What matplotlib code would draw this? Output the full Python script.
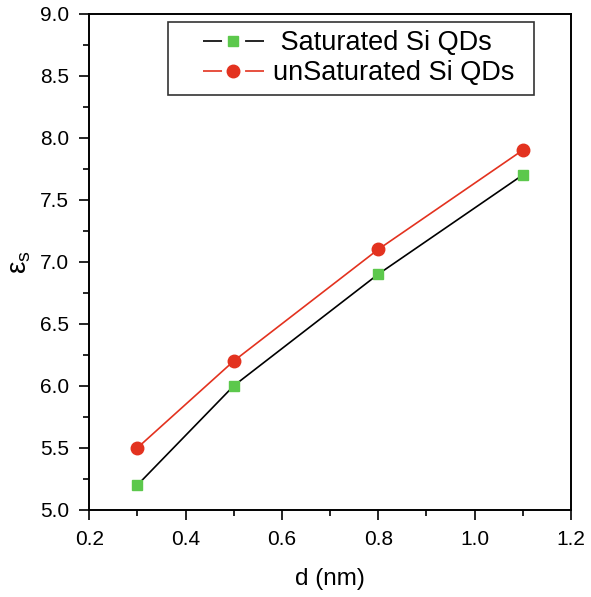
import matplotlib
matplotlib.use("Agg")
import matplotlib.pyplot as plt
from matplotlib.lines import Line2D
from matplotlib.legend_handler import HandlerLine2D
from matplotlib.ticker import MultipleLocator

plt.rcParams['font.family'] = ['Liberation Sans', 'DejaVu Sans']
plt.rcParams['lines.scale_dashes'] = False

d_nm = [0.3, 0.5, 0.8, 1.1]
eps_saturated = [5.2, 6.0, 6.9, 7.7]
eps_unsaturated = [5.5, 6.2, 7.1, 7.9]
labels = [' Saturated Si QDs', 'unSaturated Si QDs']

green = '#5cc84c'
red = '#e3321f'


class OffsetLineHandler(HandlerLine2D):
    # leave some empty room on the left of the legend line
    def __init__(self, shift, **kw):
        super().__init__(**kw)
        self.shift = shift

    def create_artists(self, legend, orig_handle, xdescent, ydescent,
                       width, height, fontsize, trans):
        s = self.shift * fontsize
        return super().create_artists(legend, orig_handle, xdescent - s,
                                      ydescent, width - s, height,
                                      fontsize, trans)


fig = plt.figure(figsize=(5.91, 5.97), dpi=100)
ax = fig.add_axes([0.151, 0.146, 0.815, 0.831])

ax.plot(d_nm, eps_saturated, color='black', lw=1.2, marker='s', ms=7,
        mfc=green, mec=green)
ax.plot(d_nm, eps_unsaturated, color=red, lw=1.2, marker='o', ms=9,
        mfc=red, mec=red)

ax.set_xlim(0.2, 1.2)
ax.set_ylim(5.0, 9.0)
ax.xaxis.set_major_locator(MultipleLocator(0.2))
ax.xaxis.set_minor_locator(MultipleLocator(0.1))
ax.yaxis.set_major_locator(MultipleLocator(0.5))
ax.yaxis.set_minor_locator(MultipleLocator(0.25))
ax.tick_params(which='both', direction='out', top=False, right=False,
               labelsize=15, width=1.2)
ax.tick_params(which='major', length=7.5, pad=7)
ax.tick_params(which='minor', length=4)
for s in ax.spines.values():
    s.set_linewidth(1.4)

ax.set_xlabel('d (nm)', fontsize=17.5, labelpad=14)
ax.set_ylabel('ε$_{\\mathregular{s}}$', fontsize=20, labelpad=5)

# legend handles: line broken around the marker
gap = (0, (13.7, 16.6))
h1 = Line2D([], [], color='black', lw=1.2, ls=gap, marker='s', ms=7,
            mfc=green, mec=green)
h2 = Line2D([], [], color=red, lw=1.2, ls=gap, marker='o', ms=9,
            mfc=red, mec=red)
fs = 19.5
hshift = 26.5 * 0.72 / fs
leg = ax.legend([h1, h2], labels,
                loc='upper left', bbox_to_anchor=(0.1636, 0.9833, 0.760, 0),
                mode='expand', fontsize=fs, numpoints=1,
                handler_map={h1: OffsetLineHandler(hshift),
                             h2: OffsetLineHandler(hshift)},
                frameon=True, fancybox=False, edgecolor='black',
                handlelength=(87.5 * 0.72) / fs, handletextpad=0.33,
                borderpad=0.3, labelspacing=0.16, borderaxespad=0)
leg.get_frame().set_linewidth(1.2)

fig.savefig('out.png', dpi=100)
